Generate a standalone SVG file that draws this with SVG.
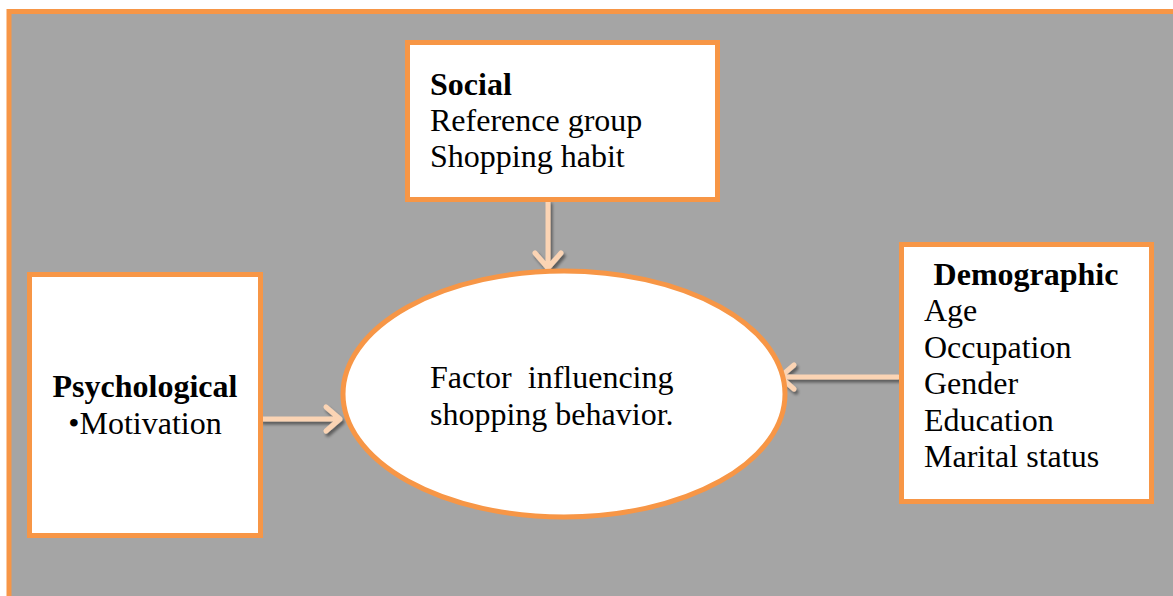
<svg xmlns="http://www.w3.org/2000/svg" width="1173" height="596" viewBox="0 0 1173 596">
  <defs>
    <style>
      .box { fill: #ffffff; stroke: #F79646; stroke-width: 5; }
      .txt { font-family: 'Liberation Serif', 'Times New Roman', Tinos, Times, serif; font-size: 32px; fill: #000000; }
      .b { font-weight: bold; }
      .conn { stroke: #FBD4B4; stroke-width: 5; fill: none; stroke-linecap: round; stroke-linejoin: round; }
    </style>
    <filter id="shadow" x="-20%" y="-20%" width="140%" height="140%">
      <feGaussianBlur in="SourceAlpha" stdDeviation="1.5"/>
      <feOffset dx="2" dy="3" result="blur"/>
      <feComponentTransfer><feFuncA type="linear" slope="0.45"/></feComponentTransfer>
      <feMerge><feMergeNode/><feMergeNode in="SourceGraphic"/></feMerge>
    </filter>
  </defs>

  <!-- background panel -->
  <rect x="0" y="0" width="1173" height="596" fill="#ffffff"/>
  <rect x="9" y="11.5" width="1175" height="600" fill="#A5A5A5" stroke="#F79646" stroke-width="5"/>

  <!-- connectors -->
  <g id="connectors" filter="url(#shadow)">
    <path class="conn" d="M548 202 V268 M535 253 L548 268 L561 253"/>
    <path class="conn" d="M262 419 H340 M326 407 L340 419 L326 431"/>
    <path class="conn" d="M898 377 H780 M794 365 L780 377 L794 389"/>
  </g>

  <g id="social">
    <rect class="box" x="407.5" y="42.5" width="310" height="157"/>
    <text class="txt b" x="430" y="95">Social</text>
    <text class="txt" x="430" y="131">Reference group</text>
    <text class="txt" x="430" y="167">Shopping habit</text>
  </g>

  <g id="psychological">
    <rect class="box" x="29.5" y="274.5" width="231" height="261"/>
    <text class="txt b" x="145" y="397" text-anchor="middle">Psychological</text>
    <text class="txt" x="145" y="434" text-anchor="middle">•Motivation</text>
  </g>

  <g id="behavior">
    <ellipse cx="564" cy="394" rx="221" ry="123" fill="#ffffff" stroke="#F79646" stroke-width="5"/>
    <text class="txt" x="430" y="388">Factor&#160; influencing</text>
    <text class="txt" x="430" y="425">shopping behavior.</text>
  </g>

  <g id="demographic">
    <rect class="box" x="901.5" y="244.5" width="250" height="257"/>
    <text class="txt b" x="1026" y="285" text-anchor="middle">Demographic</text>
    <text class="txt" x="924" y="321">Age</text>
    <text class="txt" x="924" y="358">Occupation</text>
    <text class="txt" x="924" y="394">Gender</text>
    <text class="txt" x="924" y="431">Education</text>
    <text class="txt" x="924" y="467">Marital status</text>
  </g>
</svg>
